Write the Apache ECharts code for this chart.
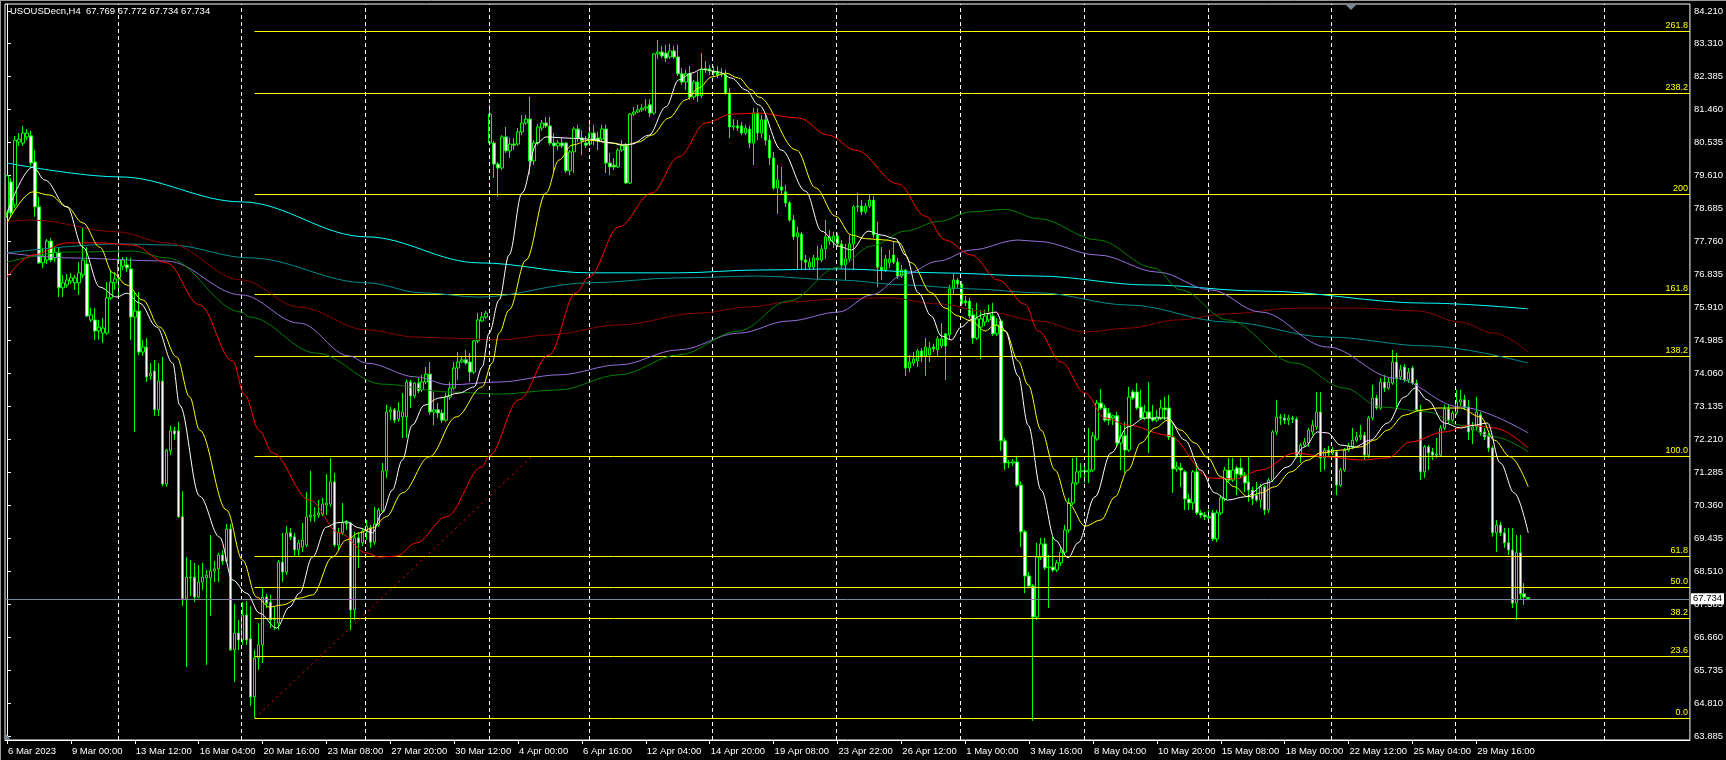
<!DOCTYPE html>
<html><head><meta charset="utf-8">
<script src="https://cdn.jsdelivr.net/npm/echarts@6/dist/echarts.min.js"></script>
<style>html,body{margin:0;padding:0;background:#000;}#c{width:1726px;height:760px;}</style>
</head><body><div id="c"></div>
<script>
const chartTitle = 'USOUSDecn,H4  67.769 67.772 67.734 67.734';
const slotCount = 422;
const yTicks = [63.885,64.810,65.735,66.660,67.585,68.510,69.435,70.360,71.285,72.210,73.135,74.060,74.985,75.910,76.835,77.760,78.685,79.610,80.535,81.460,82.385,83.310,84.210];
const xTickIdx = [0,16,32,48,64,80,96,112,128,144,160,176,192,208,224,240,256,272,288,304,320,336,352,368];
const xTickLabels = ['6 Mar 2023','9 Mar 00:00','13 Mar 12:00','16 Mar 04:00','20 Mar 16:00','23 Mar 08:00','27 Mar 20:00','30 Mar 12:00','4 Apr 00:00','6 Apr 16:00','12 Apr 04:00','14 Apr 20:00','19 Apr 08:00','23 Apr 22:00','26 Apr 12:00','1 May 00:00','3 May 16:00','8 May 04:00','10 May 20:00','15 May 08:00','18 May 00:00','22 May 12:00','25 May 04:00','29 May 16:00'];
const weekLines = [27.75,58.75,89.75,120.75,145.75,176.75,207.75,238.75,269.75,300.75,331.75,362.75,400];
const fibLevels = ['0.0','23.6','38.2','50.0','61.8','100.0','138.2','161.8','200','238.2','261.8'];
const fibPrices = [64.38,66.13,67.18,68.05,68.92,71.73,74.54,76.28,79.08,81.91,83.64];
const fibStart = 62;
const trendLine = [[62,64.38],[131.5,71.73]];
const lastPrice = 67.734;

// candles: [open, close, low, high]
const candles = [
[78.55,79.59,78.41,79.61],[79.42,78.55,78.41,79.53],[78.77,80.59,78.69,80.71],[80.54,80.62,80.43,80.79],[80.51,80.79,80.43,80.99],
[80.68,80.79,80.59,80.90],[80.71,79.95,79.87,80.85],[79.98,78.72,78.44,80.31],[78.72,77.15,77.12,79.00],[77.15,77.34,77.01,77.57],
[77.23,77.76,77.12,77.82],[77.76,77.23,77.17,77.85],[77.29,77.45,77.17,77.57],[77.45,76.45,76.19,77.59],[76.45,76.59,76.19,76.81],
[76.53,76.67,76.45,76.84],[76.64,76.73,76.56,76.87],[76.59,76.73,76.39,76.81],[76.59,76.87,76.25,77.17],[76.81,77.23,76.73,78.13],
[77.12,75.66,75.63,77.59],[75.55,75.69,75.49,75.88],[75.55,75.24,74.99,75.88],[75.24,75.35,74.99,75.55],[75.18,75.32,74.90,75.60],
[75.18,76.17,75.13,76.61],[76.17,76.61,76.11,76.95],[76.59,76.70,76.39,76.89],[76.73,77.23,76.25,77.51],[77.06,77.23,76.95,77.31],
[77.09,77.01,76.89,77.31],[76.98,75.63,74.99,77.29],[75.63,75.80,72.41,76.33],[75.80,74.65,74.57,76.33],[74.65,74.79,74.54,74.99],
[74.79,73.95,73.81,75.04],[73.98,74.06,73.87,74.34],[74.12,73.03,72.86,74.43],[73.03,73.84,72.86,74.34],[73.84,70.95,70.89,74.51],
[70.95,71.90,70.87,71.93],[71.88,72.44,71.76,72.58],[72.44,72.35,72.18,72.55],[72.44,70.03,70.00,72.69],[70.03,67.73,67.53,70.75],
[67.73,68.34,65.82,68.90],[68.34,68.32,67.81,68.82],[68.34,67.78,67.64,68.74],[67.78,68.20,67.75,68.68],[68.20,68.34,67.98,68.74],
[68.32,68.40,65.88,68.54],[68.32,68.51,67.25,69.52],[68.51,68.57,68.20,68.79],[68.57,68.96,68.20,69.02],[68.96,68.79,68.68,69.10],
[68.79,69.69,68.74,69.83],[69.69,66.30,66.27,69.83],[66.30,66.77,65.40,67.59],[66.77,66.58,66.30,67.14],[66.58,67.28,66.44,67.64],
[67.28,66.58,66.44,67.67],[66.61,64.98,64.73,67.53],[64.98,66.07,64.39,66.30],[66.07,66.44,65.74,67.05],[66.44,67.78,65.93,68.06],
[67.78,67.61,67.47,67.87],[67.64,67.14,66.91,67.84],[67.14,67.19,66.86,67.50],[67.05,68.76,66.86,68.82],[68.76,68.48,68.20,69.58],
[68.48,69.58,68.40,69.77],[69.58,69.47,69.38,69.72],[69.47,69.10,68.90,69.58],[69.10,69.30,68.90,69.38],[69.18,69.38,69.04,69.86],
[69.24,70.03,69.18,70.73],[70.03,70.08,69.89,71.32],[70.05,70.08,69.89,70.31],[70.08,70.14,70.00,70.50],[70.11,70.39,70.05,70.56],
[70.36,70.42,70.08,71.23],[70.39,71.01,70.31,71.68],[71.01,69.24,69.18,71.26],[69.24,69.58,69.10,69.72],[69.58,69.86,69.52,70.42],
[69.86,69.83,69.66,69.94],[69.86,67.42,66.86,69.89],[67.42,69.44,67.14,69.61],[69.44,69.30,68.60,69.58],[69.30,69.63,69.21,69.72],
[69.63,69.77,69.38,69.94],[69.72,69.32,69.16,69.80],[69.32,69.83,69.24,70.31],[69.80,70.22,69.75,70.28],[70.19,71.32,70.14,71.54],
[71.32,72.97,71.12,73.17],[72.97,73.03,72.74,73.11],[73.03,72.74,72.66,73.08],[72.77,73.00,72.69,73.25],[72.83,72.97,72.24,73.50],
[72.83,73.81,72.24,73.87],[73.81,73.42,73.08,73.87],[73.42,73.78,73.36,73.81],[73.78,73.56,73.50,73.92],[73.59,73.81,73.53,74.01],
[73.81,74.03,73.75,74.23],[74.03,72.97,72.89,74.37],[72.97,73.03,72.60,73.53],[73.03,72.94,72.80,73.22],[72.94,72.74,72.66,73.03],
[72.74,73.39,72.69,73.50],[73.39,73.64,73.31,73.81],[73.64,74.20,73.59,74.37],[74.20,74.37,73.87,74.65],[74.37,74.43,74.34,74.51],
[74.43,74.34,74.29,74.71],[74.37,74.09,73.81,74.62],[74.09,74.96,74.03,74.99],[74.96,75.55,74.90,75.74],[75.52,75.63,75.49,75.77],
[75.63,75.74,75.58,75.80],[80.51,81.32,80.45,81.58],[80.51,79.92,79.53,80.57],[79.92,79.81,79.00,79.98],[79.81,80.68,79.75,80.73],
[80.68,80.29,80.23,80.96],[80.29,80.48,80.09,80.65],[80.48,80.45,80.31,80.65],[80.48,80.82,80.43,80.93],[80.82,81.07,80.73,81.30],
[81.07,81.18,81.02,81.30],[81.18,80.01,79.64,81.80],[80.01,80.51,79.89,80.59],[80.51,80.96,80.45,81.04],[80.93,81.07,80.85,81.16],
[81.07,80.99,80.93,81.24],[80.99,80.51,80.45,81.24],[80.51,80.43,79.70,80.79],[80.43,80.51,80.31,80.59],[80.51,80.43,80.37,80.65],
[80.51,79.73,79.67,80.54],[79.73,80.26,79.61,80.31],[80.26,80.90,79.67,80.96],[80.90,80.65,80.54,81.02],[80.65,80.57,80.17,80.87],
[80.51,80.45,80.37,80.71],[80.48,80.79,80.43,81.16],[80.79,80.59,80.45,81.02],[80.65,80.57,80.31,80.82],[80.62,80.90,80.57,81.02],
[80.90,79.95,79.67,81.02],[79.95,79.84,79.61,80.23],[79.89,79.84,79.75,80.09],[79.84,80.31,79.81,80.37],[80.31,80.43,80.26,80.59],
[80.43,79.39,79.36,80.51],[79.39,81.32,79.36,81.35],[81.32,81.38,81.27,81.52],[81.38,81.44,81.35,81.58],[81.44,81.49,81.38,81.60],
[81.49,81.52,81.41,81.74],[81.58,81.35,81.24,81.74],[81.35,83.01,81.30,83.03],[83.01,83.06,82.87,83.40],[83.06,82.95,82.89,83.23],
[83.03,82.89,82.78,83.26],[82.92,83.09,82.87,83.29],[83.09,82.92,82.87,83.23],[82.92,82.45,82.39,83.26],[82.45,82.22,82.14,82.61],
[82.22,82.45,82.00,82.56],[82.45,81.80,81.72,82.67],[81.80,82.22,81.72,82.28],[82.22,81.83,81.66,82.50],[81.83,82.59,81.77,83.03],
[82.59,82.56,82.47,82.81],[82.59,82.53,82.42,82.70],[82.53,82.47,82.39,82.67],[82.50,82.42,82.33,82.67],[82.42,82.45,82.36,82.61],
[82.42,81.91,81.86,82.56],[81.91,80.96,80.65,82.05],[80.96,80.99,80.87,81.18],[80.99,80.93,80.85,81.16],[80.99,80.79,80.73,81.10],
[80.79,80.93,80.73,81.02],[80.90,80.51,80.37,80.99],[80.51,81.35,79.89,81.49],[81.35,80.79,80.59,81.49],[80.79,81.16,80.65,81.30],
[81.16,80.59,80.45,81.30],[80.59,80.09,79.89,80.73],[80.09,79.25,79.19,80.26],[79.25,79.47,78.52,79.89],[79.28,79.19,79.05,79.84],
[79.14,78.83,78.72,79.33],[78.83,78.35,78.30,78.88],[78.35,77.88,77.79,78.49],[77.88,77.99,76.95,78.16],[77.96,77.23,76.95,78.02],
[77.23,77.17,76.95,77.37],[77.03,77.17,76.95,77.29],[77.03,77.29,76.95,77.37],[77.23,77.29,76.67,77.62],[77.23,77.54,77.17,77.65],
[77.54,77.88,77.26,78.35],[77.76,77.88,77.65,78.07],[77.74,77.90,77.57,78.02],[77.90,77.68,77.59,77.99],[77.68,77.09,76.98,77.79],
[77.09,77.26,76.67,77.68],[77.26,77.68,77.17,77.93],[77.68,78.72,76.95,78.77],[78.72,78.74,78.58,79.11],[78.74,78.58,78.49,78.91],
[78.58,78.74,78.52,78.83],[78.74,78.91,78.69,79.05],[78.91,77.93,77.85,79.02],[77.93,77.03,76.47,78.30],[77.03,76.95,76.67,77.59],
[76.95,77.26,76.89,77.37],[77.15,77.26,77.01,77.51],[77.37,77.17,77.12,77.74],[77.17,76.78,76.70,77.29],[76.78,76.95,76.73,77.09],
[76.95,74.20,73.98,76.98],[74.20,74.37,74.09,74.57],[74.34,74.45,74.26,74.65],[74.40,74.68,74.23,74.74],[74.68,74.51,74.37,74.76],
[74.54,74.79,73.98,75.04],[74.57,74.76,74.37,74.93],[74.79,74.74,74.65,74.88],[74.71,75.02,74.54,75.10],[74.82,75.02,74.76,75.46],
[75.16,74.82,73.87,75.18],[75.13,76.42,74.99,76.53],[76.42,76.67,76.25,76.84],[76.67,76.56,76.45,76.73],[76.56,76.00,75.94,76.64],
[76.08,76.03,75.94,76.22],[76.08,75.66,75.60,76.17],[75.69,75.04,74.88,75.88],[75.04,75.58,74.99,76.03],[75.35,75.58,74.45,75.83],
[75.49,75.66,75.38,75.83],[75.55,75.72,75.49,75.97],[75.66,75.16,75.10,76.03],[75.16,75.41,75.10,75.60],[75.52,72.16,71.88,75.58],
[72.16,71.54,71.34,72.24],[71.54,71.55,71.40,71.62],[71.54,71.57,71.46,71.65],[71.57,70.92,70.87,71.74],[70.92,69.61,69.18,71.03],
[69.61,68.37,67.89,69.66],[68.37,68.09,68.03,68.48],[68.09,67.22,64.31,68.15],[67.22,68.90,67.14,69.30],[68.90,69.27,68.82,69.44],
[69.27,68.60,68.54,69.44],[68.60,68.62,67.47,68.96],[68.62,68.54,68.48,69.46],[68.54,68.74,68.48,68.82],[68.74,69.04,68.65,69.16],
[69.04,69.66,68.96,69.80],[69.66,70.42,69.58,70.56],[70.42,70.98,70.36,71.68],[70.98,71.29,70.92,71.71],[71.29,71.32,71.12,71.54],
[71.32,71.29,70.98,71.54],[71.29,71.34,70.98,72.52],[71.34,72.30,71.29,72.41],[72.21,73.22,72.16,73.31],[73.22,73.08,73.03,73.61],
[73.08,72.74,72.69,73.17],[72.94,72.74,72.60,73.08],[72.80,72.86,72.60,72.89],[72.86,72.10,72.02,72.97],[72.10,72.30,71.34,72.60],
[72.30,71.90,71.26,72.69],[71.90,73.39,71.85,73.67],[73.53,73.36,73.31,73.59],[73.53,73.08,73.03,73.78],[73.11,72.80,72.74,73.59],
[72.80,72.97,72.74,73.17],[72.97,72.80,71.82,73.81],[72.80,72.74,72.69,73.17],[72.74,72.83,72.69,73.03],[72.80,73.08,72.74,73.31],
[73.08,73.03,72.74,73.39],[73.08,72.27,72.18,73.45],[72.27,71.37,70.70,72.60],[71.37,71.43,71.29,71.57],[71.40,71.34,70.87,71.54],
[71.29,70.53,70.22,71.34],[70.53,70.42,70.22,70.67],[70.42,71.29,70.22,71.34],[71.29,70.14,70.08,71.54],[70.14,70.08,70.00,70.22],
[70.08,70.03,69.94,70.17],[70.03,70.00,69.91,70.22],[70.14,69.41,69.35,70.22],[69.41,70.14,69.32,70.22],[70.14,70.56,70.08,70.64],
[70.53,71.34,70.47,71.43],[71.34,71.06,71.01,71.68],[71.06,71.34,71.01,71.68],[71.40,71.23,70.64,71.46],[71.40,71.20,71.12,71.68],
[71.20,70.98,70.73,71.29],[71.01,70.78,70.45,71.71],[70.78,70.53,70.36,70.87],[70.64,70.50,70.45,71.01],[70.50,70.87,70.28,70.95],
[70.87,70.22,70.08,70.92],[70.22,71.06,70.14,71.12],[71.06,72.41,71.01,72.46],[72.41,72.83,72.32,73.31],[72.83,72.80,72.60,72.91],
[72.80,72.74,72.63,72.91],[72.74,72.80,72.60,72.89],[72.80,72.77,72.66,72.86],[72.77,71.76,71.68,72.83],[71.76,72.04,71.54,72.10],
[72.04,72.13,71.99,72.24],[72.10,72.46,71.99,72.52],[72.41,72.60,72.32,72.74],[72.55,72.97,72.46,73.53],[72.97,71.68,71.29,73.53],
[71.68,71.90,71.34,71.96],[71.90,71.82,71.74,72.02],[71.82,71.90,71.76,71.99],[71.85,70.92,70.64,71.90],[70.92,71.34,70.87,71.40],
[71.34,71.90,71.29,71.96],[71.90,72.02,71.85,72.10],[71.99,72.18,71.93,72.52],[72.18,72.27,72.13,72.41],[72.27,72.32,72.18,72.60],
[72.32,71.76,71.62,72.41],[71.76,72.80,71.68,72.86],[72.80,73.36,72.74,73.73],[73.36,73.08,73.03,73.45],[73.08,73.81,73.03,73.92],
[73.81,73.64,73.53,74.01],[73.64,73.81,73.59,73.92],[73.78,74.37,73.73,74.71],[74.37,73.92,73.11,74.62],[73.95,74.15,73.87,74.29],
[74.23,73.87,73.81,74.31],[73.87,74.09,73.78,74.20],[74.20,73.78,73.73,74.26],[73.78,73.03,72.97,73.87],[73.03,71.29,71.06,73.17],
[71.29,71.99,71.12,72.04],[71.99,71.82,71.34,72.04],[71.85,71.76,71.62,71.96],[71.76,71.79,71.68,72.24],[71.76,72.52,71.74,72.60],
[72.52,73.05,72.46,73.17],[73.05,72.74,72.63,73.17],[72.74,72.94,72.69,73.00],[72.94,73.25,72.89,73.59],[73.25,73.31,73.14,73.59],
[73.31,73.11,73.03,73.45],[73.11,72.41,72.18,73.31],[72.46,72.55,72.07,72.69],[72.55,72.97,72.46,73.39],[72.89,72.38,72.30,72.97],
[72.41,72.27,72.18,72.52],[72.30,71.96,71.85,72.38],[71.96,69.58,69.47,72.02],[69.58,69.80,69.04,69.94],[69.80,69.58,69.49,69.89],
[69.58,69.30,69.16,69.72],[69.30,69.10,68.96,69.72],[69.10,67.61,67.47,69.72],[67.61,69.02,67.14,69.52],[69.02,67.87,67.70,69.52],
[67.87,67.78,67.56,68.17],[67.769,67.734,67.734,67.772]
];

// moving averages: [bar index, price]
const maWhite = [[0,78.55],[6.5,79.84],[9.5,79.47],[15,78.72],[19,77.59],[23.25,76.47],[27.5,76.19],[30,76.30],[33.25,76.02],[37.5,75.35],[41.5,74.34],[43.25,73.16],[48.25,70.61],[53.25,69.46],[56.5,68.26],[60,67.89],[63.25,67.33],[67.5,66.91],[70.75,67.50],[73.25,67.89],[76.5,68.90],[80,69.74],[82.5,69.86],[85,69.89],[88.25,69.72],[91.5,69.58],[94,70.14],[96.5,70.78],[99,71.62],[101.5,72.60],[104.5,73.16],[108.25,73.36],[113.25,73.50],[117,73.67],[119,74.23],[120.75,75.18],[123.25,76.11],[125.75,77.37],[129,79.11],[132.75,80.51],[135,80.68],[140,80.65],[145.75,80.62],[151.5,80.51],[154,80.45],[156.5,80.48],[160.75,80.73],[165,81.52],[168.25,82.28],[171.5,82.47],[174,82.58],[178.25,82.50],[181.5,82.33],[185,82.00],[188.25,81.58],[194,80.31],[200,79.16],[204,78.04],[208.25,77.62],[211.5,77.51],[215.75,78.04],[219,77.93],[222.5,77.83],[225,77.37],[228.25,76.31],[231.5,75.66],[234,75.10],[236.5,74.99],[239,75.35],[241.5,75.56],[245,75.72],[247.75,75.77],[250,75.24],[253.25,73.98],[255.75,72.60],[259,70.78],[262.5,69.38],[265.75,68.88],[268.25,69.30],[272.5,70.59],[276.5,71.82],[280.75,72.55],[285,72.80],[290.75,72.80],[295,72.18],[299,71.34],[302.5,70.70],[305.75,70.50],[310,70.59],[315.75,70.98],[320.75,71.43],[325,71.99],[328.25,72.41],[330.75,72.38],[334,72.04],[337.5,71.99],[341.5,72.18],[345.75,72.66],[350,73.39],[352.75,73.64],[355.75,73.31],[360,72.66],[364,72.52],[367.5,72.60],[370.75,72.66],[374,71.54],[377.5,70.70],[381,69.58]];
const maYellow = [[0,78.27],[6.5,79.14],[10.75,79.05],[15,78.72],[19,78.27],[23.25,77.59],[26.5,76.87],[30,76.53],[34,76.11],[38.25,75.35],[42.5,74.51],[45.75,73.39],[48.25,72.46],[55,70.22],[59,68.82],[62.5,67.78],[65.75,67.50],[69,67.56],[73.25,67.75],[76.5,67.84],[81.5,68.90],[85,69.38],[88.25,69.58],[91.5,69.72],[95,70.03],[99,70.70],[105.75,71.71],[112.5,72.83],[119,73.67],[121.5,74.34],[123.25,75.18],[125.75,75.83],[130,77.23],[135,79.11],[138.25,80.03],[141.5,80.45],[145.75,80.59],[151.5,80.51],[155,80.45],[158.25,80.54],[161.5,80.73],[165.75,81.21],[170,81.72],[173.25,82.05],[176.5,82.36],[180,82.47],[183.25,82.33],[186.5,82.00],[188.25,81.80],[197.75,80.31],[202.5,79.25],[207.5,78.46],[211.5,77.93],[215,77.83],[220,77.79],[223.25,77.73],[226.5,77.15],[231.5,76.31],[235,75.88],[238.25,75.66],[241.5,75.52],[245,75.24],[247.5,75.41],[250,75.24],[253.25,74.40],[255.75,73.73],[259,72.46],[262.5,71.34],[265.75,70.42],[270,69.77],[274,69.94],[277.5,70.59],[280.75,71.34],[284,72.10],[287.5,72.52],[290.75,72.74],[294,72.46],[297.5,72.10],[300.75,71.68],[304,71.15],[307.5,70.87],[310.75,70.59],[314,70.70],[317.5,70.87],[321.5,71.29],[325.75,71.62],[329,71.82],[334,71.90],[339,71.99],[342.5,72.18],[345.75,72.46],[350,72.88],[354,73.02],[358.25,73.08],[364,73.08],[369,72.83],[372.5,72.18],[376.5,71.71],[381,70.87]];
const maRed = [[0,76.75],[6.5,77.37],[15,77.71],[23.25,77.71],[31.5,77.65],[40,77.15],[48.25,75.97],[56.5,74.40],[59.5,73.45],[63.25,72.44],[66.5,71.82],[75.75,70.50],[83.25,69.58],[90,69.02],[93.25,68.90],[97.5,68.93],[102.5,69.30],[110,70.03],[119,71.43],[120.75,71.74],[128.25,73.31],[135.75,74.57],[142.5,76.31],[145.75,76.75],[153.25,78.16],[161.5,79.11],[168.25,80.12],[175,81.07],[181.5,81.32],[188.25,81.35],[198.25,81.21],[205.75,80.73],[212.5,80.31],[223.25,79.36],[230,78.46],[235,77.79],[241.5,77.37],[248.25,76.67],[255,75.99],[258.25,75.24],[264,74.37],[270,73.50],[275,72.80],[280.75,72.60],[290.75,72.32],[301.5,71.12],[307.5,71.09],[314,71.34],[322.5,71.82],[330.75,71.71],[339,71.62],[345.75,71.68],[351.5,72.13],[360,72.41],[366.5,72.60],[372.5,72.52],[381,71.96]];
const maMaroon = [[0,78.30],[6.5,78.35],[27.5,78.02],[40,77.71],[58.75,76.67],[73.25,75.91],[90,75.27],[102.5,75.07],[110.75,75.04],[123.25,74.99],[135.75,75.13],[153.25,75.41],[173.25,75.74],[185.75,75.91],[195.75,76.05],[208.25,76.14],[220.75,76.17],[233.25,76.00],[245.75,75.77],[258.25,75.52],[270,75.21],[280.75,75.32],[293.25,75.55],[305.75,75.72],[322.5,75.88],[339,75.88],[353.25,75.80],[364,75.49],[372.5,75.18],[381,74.65]];
const maCyan = [[0,79.95],[28.25,79.56],[58.75,78.86],[90,77.88],[118.25,77.15],[145.75,76.87],[168.25,76.87],[188.25,76.95],[208.25,76.98],[233.25,76.87],[258.25,76.78],[285.75,76.53],[314,76.36],[355.75,76.02],[381,75.86]];
const maTeal = [[0,77.43],[28.25,77.68],[40.75,77.65],[60.75,77.29],[90,76.59],[104,76.31],[118.25,76.19],[145.75,76.59],[168.25,76.73],[188.25,76.78],[208.25,76.67],[225,76.53],[241.5,76.42],[258.25,76.31],[280.75,75.97],[305.75,75.49],[330.75,75.07],[355.75,74.82],[381,74.34]];
const maLavender = [[0,77.43],[15,77.29],[40,77.20],[58.75,76.25],[73.25,75.46],[85.75,74.54],[90,74.34],[102.5,73.95],[110.75,73.73],[123.25,73.81],[138.25,74.01],[153.25,74.29],[168.25,74.71],[183.25,75.18],[195.75,75.52],[208.25,75.77],[216.5,76.25],[225,76.84],[233.25,77.20],[241.5,77.51],[253.25,77.79],[258.25,77.75],[273.25,77.37],[288.25,76.89],[301.5,76.39],[314,75.77],[330.75,74.79],[347.5,73.92],[364,73.11],[381,72.38]];
const maGreen = [[0,77.17],[15,77.45],[31.5,77.48],[40,77.29],[58.75,75.77],[60.75,75.63],[77.5,74.62],[94,73.75],[110.75,73.53],[123.25,73.47],[138.25,73.59],[153.25,74.01],[168.25,74.57],[183.25,75.24],[195.75,76.08],[208.25,77.03],[216.5,77.62],[225,78.04],[233.25,78.31],[241.5,78.58],[250,78.65],[258.25,78.39],[273.25,77.79],[287.25,77.01],[294,76.39],[305.75,75.55],[322.5,74.34],[335,73.64],[344,73.11],[355.75,72.97],[364,72.60],[372.5,72.27],[381,71.85]];

const FONT = '"Liberation Sans", Arial, sans-serif';
const cats = Array.from({length: slotCount}, (_, i) => String(i));
const labelMap = {};
xTickIdx.forEach((ix, k) => { labelMap[ix] = xTickLabels[k]; });
const hasLabel = (idx) => labelMap[idx] !== undefined;

function maSeries(data, color) {
  return { type: 'line', xAxisIndex: 1, yAxisIndex: 0, data: data, symbol: 'none', smooth: 0.35, smoothMonotone: 'x',
    lineStyle: { color: color, width: 1 }, silent: true, z: 5, animation: false };
}

const chart = echarts.init(document.getElementById('c'), null, { renderer: 'canvas' });
chart.setOption({
  backgroundColor: '#000000',
  animation: false,
  grid: { left: 5, right: 33, top: 4, bottom: 20, show: true, borderColor: '#ffffff', borderWidth: 1 },
  xAxis: [
    { type: 'category', data: cats, boundaryGap: true,
      axisLine: { show: true, lineStyle: { color: '#ffffff', width: 1 } },
      axisTick: { show: true, alignWithLabel: true, interval: (i) => hasLabel(i), length: 4, lineStyle: { color: '#ffffff' } },
      axisLabel: { show: true, interval: (i) => hasLabel(i), formatter: (v, i) => labelMap[i] || '', color: '#ffffff',
        fontSize: 9.5, fontFamily: FONT, align: 'left', margin: 6, padding: [0, 0, 0, 1] },
      splitLine: { show: false } },
    { type: 'value', min: -0.5, max: slotCount - 0.5, show: false }
  ],
  yAxis: [{ type: 'value', position: 'right', min: 63.773, max: 84.407,
    axisLine: { show: true, lineStyle: { color: '#ffffff' } },
    axisTick: { show: true, customValues: yTicks, length: 4, lineStyle: { color: '#ffffff' } },
    axisLabel: { show: true, customValues: yTicks, formatter: (v) => v.toFixed(3), color: '#ffffff', fontSize: 9.5, fontFamily: FONT, margin: 4 },
    splitLine: { show: false } }],
  graphic: [
    { type: 'text', left: 10, top: 6, z: 100, style: { text: chartTitle, fill: '#ffffff', font: '9.5px ' + FONT } },
    { type: 'line', z: 100, shape: { x1: 0.5, y1: 0, x2: 0.5, y2: 760 }, style: { stroke: '#9a9a9a', lineWidth: 1 } },
    { type: 'line', z: 100, shape: { x1: 0, y1: 0.5, x2: 1726, y2: 0.5 }, style: { stroke: '#9a9a9a', lineWidth: 1 } },
    { type: 'polygon', z: 100, shape: { points: [[1346, 5], [1356, 5], [1351, 10]] }, style: { fill: '#778899' } },
    { type: 'polygon', z: 100, shape: { points: [[5, 733], [5, 740], [11, 740]] }, style: { fill: '#778899' } }
  ],
  series: [
    { type: 'line', xAxisIndex: 1, data: [], silent: true, z: 1,
      markLine: { silent: true, symbol: ['none', 'none'], animation: false, label: { show: false },
        lineStyle: { color: '#ffffff', width: 1, type: [4, 3] },
        data: weekLines.map(v => ({ xAxis: v })) } },
    { type: 'candlestick', xAxisIndex: 0, yAxisIndex: 0, data: candles, barWidth: 3, z: 3,
      itemStyle: { color: '#000000', color0: '#ffffff', borderColor: '#00ff00', borderColor0: '#00ff00', borderWidth: 1 },
      markLine: { silent: true, symbol: ['none', 'none'], animation: false,
        lineStyle: { color: '#778899', width: 1, type: 'solid' },
        label: { show: true, position: 'end', distance: 1, formatter: lastPrice.toFixed(3), backgroundColor: '#ffffff', color: '#000000',
          fontSize: 9.5, fontFamily: FONT, padding: [1, 2, 0, 2] },
        data: [{ yAxis: lastPrice }] } },
    maSeries(maCyan, '#00ffff'),
    maSeries(maTeal, '#008b8b'),
    maSeries(maMaroon, '#8b0000'),
    maSeries(maLavender, '#9370db'),
    maSeries(maGreen, '#008000'),
    maSeries(maRed, '#ff0000'),
    maSeries(maYellow, '#ffff00'),
    maSeries(maWhite, '#ffffff'),
    { type: 'line', xAxisIndex: 1, data: trendLine, symbol: 'none', silent: true, z: 6,
      lineStyle: { color: '#ff0000', width: 1, type: [2, 4] } },
    { type: 'line', xAxisIndex: 1, data: [], silent: true, z: 7,
      markLine: { silent: true, symbol: ['none', 'none'], animation: false,
        lineStyle: { color: '#ffff00', width: 1, type: 'solid' },
        label: { show: true, position: 'insideEndTop', distance: [2, 1], color: '#ffff00', fontSize: 9, fontFamily: FONT,
          formatter: (p) => fibLevels[p.dataIndex] },
        data: fibPrices.map(p => [{ coord: [fibStart, p] }, { coord: [slotCount - 0.5, p] }]) } }
  ]
});
</script></body></html>
